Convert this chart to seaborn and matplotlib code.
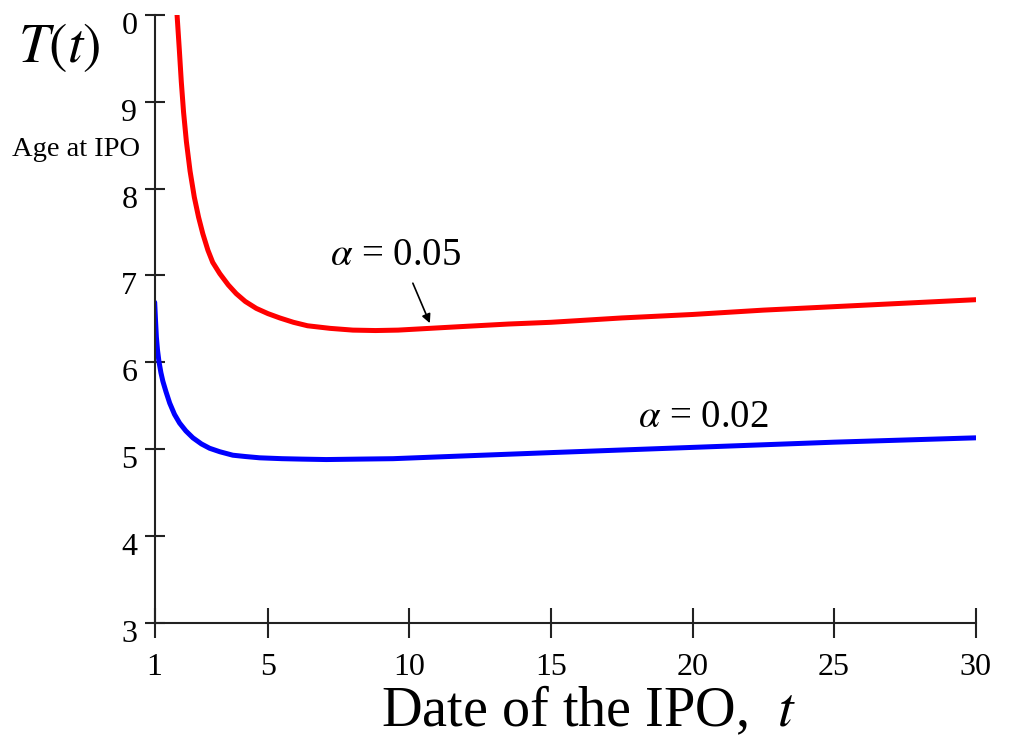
import numpy as np
import pandas as pd
import matplotlib
matplotlib.use("Agg")
import matplotlib.pyplot as plt
import matplotlib.transforms as mtransforms
import seaborn as sns

# ---- data ----
t_red = [1.79, 1.87, 1.94, 2.02, 2.12, 2.25, 2.4, 2.55, 2.7, 2.88, 3.05, 3.3, 3.6, 3.88,
         4.2, 4.59, 5.0, 5.42, 5.9, 6.4, 7.2, 8.0, 8.8, 9.6, 10.7, 11.8, 13.5, 15.0,
         17.5, 20.0, 22.5, 25.0, 27.5, 30.0]
T_red = [10.0, 9.6, 9.23, 8.88, 8.54, 8.20, 7.90, 7.67, 7.48, 7.29, 7.15, 7.02, 6.89, 6.79,
         6.70, 6.62, 6.56, 6.51, 6.46, 6.42, 6.39, 6.37, 6.365, 6.37, 6.39, 6.41, 6.44, 6.46,
         6.51, 6.55, 6.60, 6.64, 6.68, 6.72]

t_blue = [1.0, 1.03, 1.06, 1.1, 1.15, 1.22, 1.29, 1.4, 1.53, 1.7, 1.88, 2.1, 2.35, 2.65,
          2.94, 3.3, 3.76, 4.2, 4.71, 5.5, 6.2, 7.06, 8.2, 9.42, 10.6, 11.78, 15.0, 20.0,
          25.0, 30.0]
T_blue = [6.69, 6.48, 6.29, 6.14, 6.01, 5.88, 5.78, 5.66, 5.53, 5.40, 5.30, 5.21, 5.13, 5.06,
          5.01, 4.97, 4.93, 4.915, 4.90, 4.89, 4.885, 4.88, 4.885, 4.89, 4.905, 4.92, 4.96, 5.02,
          5.08, 5.13]

x_ticks = [1, 5, 10, 15, 20, 25, 30]
y_ticks = [3, 4, 5, 6, 7, 8, 9, 10]
y_tick_labels = ["3", "4", "5", "6", "7", "8", "9", "0"]

df = pd.concat([
    pd.DataFrame({"t": t_red, "T": T_red, "alpha": "0.05"}),
    pd.DataFrame({"t": t_blue, "T": T_blue, "alpha": "0.02"}),
])

sns.set_style("white")
plt.rcParams["font.family"] = ["Liberation Serif", "DejaVu Serif"]
plt.rcParams["mathtext.fontset"] = "stix"
plt.rcParams["text.color"] = "black"
plt.rcParams["axes.labelcolor"] = "black"

fig = plt.figure(figsize=(10.11, 7.38), dpi=100)
ax = fig.add_axes([0.153, 0.156, 0.812, 0.824])

sns.lineplot(data=df, x="t", y="T", hue="alpha",
             palette={"0.05": "#ff0000", "0.02": "#0000ff"},
             linewidth=3.6, legend=False, ax=ax, sort=False, estimator=None,
             solid_capstyle="round", solid_joinstyle="round")

ax.set_xlim(1, 30)
ax.set_ylim(3, 10)
ax.set_xticks(x_ticks)
ax.set_xticklabels([str(v) for v in x_ticks])
ax.set_yticks(y_ticks)
ax.set_yticklabels(y_tick_labels)

for s in ["top", "right"]:
    ax.spines[s].set_visible(False)
for s in ["left", "bottom"]:
    ax.spines[s].set_color("#222222")
    ax.spines[s].set_linewidth(1.5)

ax.tick_params(axis="x", bottom=True, direction="inout", length=22, width=1.5,
               color="#222222", labelsize=23, pad=11, labelcolor="black")
ax.tick_params(axis="y", left=True, direction="inout", length=15, width=1.5,
               color="#222222", labelsize=23, pad=5, labelcolor="black")
off = mtransforms.ScaledTranslation(0, -0.08, fig.dpi_scale_trans)
for lab in ax.get_yticklabels():
    lab.set_transform(lab.get_transform() + off)

ax.set_xlabel("Date of the IPO,  $t$", fontsize=40.5, va="baseline", ha="center")
ax.xaxis.set_label_coords(0.529, -0.170)
ax.set_ylabel("")

fig.text(0.018, 0.935, "$T(t)$", fontsize=40, ha="left", va="center")
fig.text(0.012, 0.797, "Age at IPO", fontsize=20.5, ha="left", va="center")

ax.text(7.18, 7.23, r"$\alpha$ = 0.05", fontsize=28, ha="left", va="center")
ax.text(18.07, 5.36, r"$\alpha$ = 0.02", fontsize=28, ha="left", va="center")
ax.annotate("", xy=(10.72, 6.45), xytext=(10.12, 6.91),
            arrowprops=dict(arrowstyle="-|>", color="black", lw=1.2,
                            mutation_scale=13, shrinkA=0, shrinkB=0))

fig.savefig("out.png", dpi=100, facecolor="white")
